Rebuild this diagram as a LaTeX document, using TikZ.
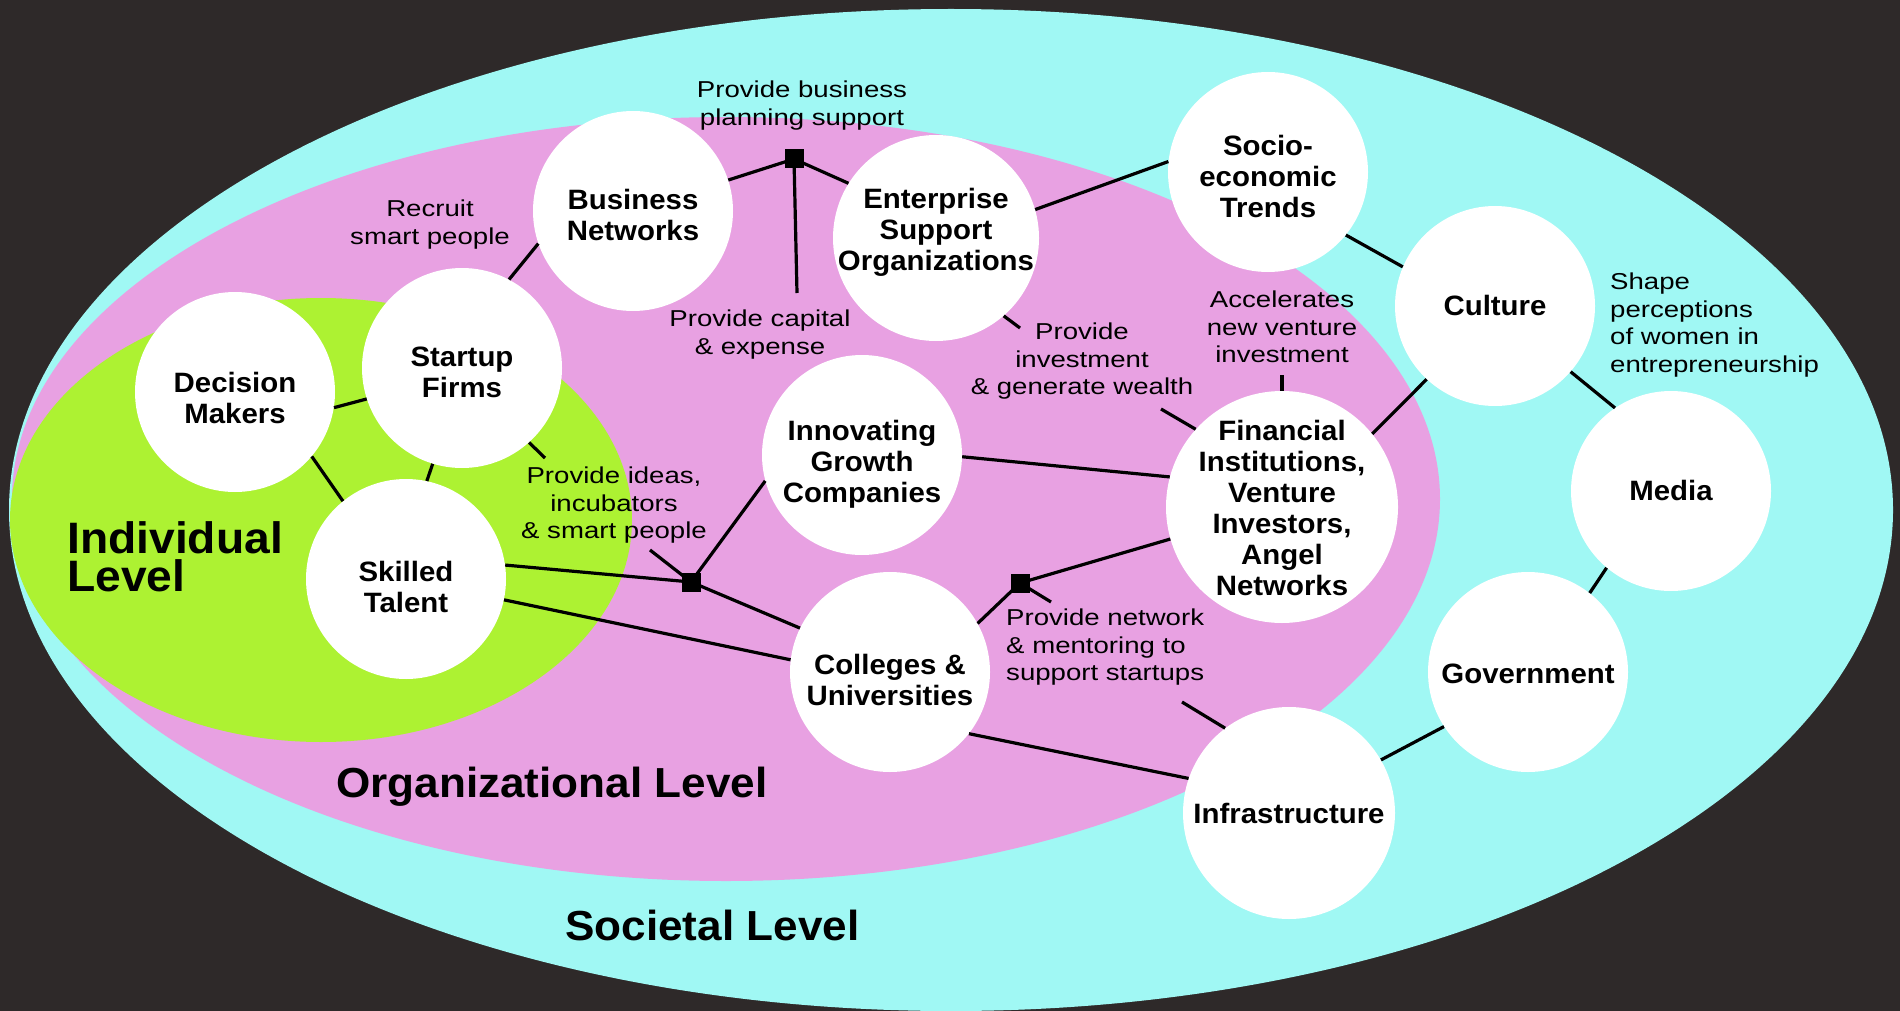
\documentclass[tikz,border=0pt]{standalone}
\usepackage{fontspec}
\setmainfont{Liberation Sans}[FakeStretch=1.05]
\newfontfamily\lblfont{Liberation Sans}[FakeStretch=1.2]
\definecolor{bgdark}{HTML}{2E2929}
\definecolor{socfill}{HTML}{A0F8F4}
\definecolor{orgfill}{HTML}{E8A1E2}
\definecolor{indfill}{HTML}{ADF232}
\begin{document}
\begin{tikzpicture}[x=1pt,y=-1pt,
  actor/.style={circle, fill=white, inner sep=0pt, minimum size=200pt},
  actortext/.style={align=center, inner sep=0pt, font=\bfseries\fontsize{28}{31}\selectfont},
  link/.style={line width=3.2pt, black},
  hub/.style={rectangle, fill=black, minimum size=19pt, inner sep=0pt},
  lbl/.style={align=center, inner sep=0pt, font=\lblfont\fontsize{23}{27.5}\selectfont},
  lvl/.style={inner sep=0pt, font=\bfseries\fontsize{42}{38}\selectfont}]

\fill[bgdark] (0,0) rectangle (1900,1011);
\useasboundingbox (0,0) rectangle (1900,1011);
\fill[socfill] (951,510) ellipse [x radius=942pt, y radius=501pt];
\fill[orgfill] (726,499) ellipse [x radius=714pt, y radius=382pt];
\fill[indfill] (321,520) ellipse [x radius=311pt, y radius=222pt];

% actors
\node[actor] (bn) at (633,211) {};
\node[actor, minimum size=206pt] (eso) at (936,238) {};
\node[actor] (soc) at (1268,172) {};
\node[actor] (cul) at (1495,306) {};
\node[actor] (med) at (1671,491) {};
\node[actor] (gov) at (1528,672) {};
\node[actor, minimum size=212pt] (inf) at (1289,813) {};
\node[actor, minimum size=232pt] (fin) at (1282,507) {};
\node[actor] (col) at (890,672) {};
\node[actor] (igc) at (862,455) {};
\node[actor] (st) at (406,579) {};
\node[actor] (dm) at (235,392) {};
\node[actor] (sf) at (462,368) {};

\node[actortext, yshift=-4pt] (bn-t) at (bn) {Business\\Networks};
\node[actortext, yshift=6pt] (eso-t) at (eso) {Enterprise\\Support\\Organizations};
\node[actortext, yshift=-4pt] (soc-t) at (soc) {Socio-\\economic\\Trends};
\node[actortext, yshift=1pt] (cul-t) at (cul) {Culture};
\node[actortext, yshift=1pt] (med-t) at (med) {Media};
\node[actortext, yshift=-2pt] (gov-t) at (gov) {Government};
\node[actortext] (inf-t) at (inf) {Infrastructure};
\node[actortext, yshift=-1pt] (fin-t) at (fin) {Financial\\Institutions,\\Venture\\Investors,\\Angel\\Networks};
\node[actortext, yshift=-7.5pt] (col-t) at (col) {Colleges \&\\Universities};
\node[actortext, yshift=-9.5pt] (igc-t) at (igc) {Innovating\\Growth\\Companies};
\node[actortext, yshift=-8pt] (st-t) at (st) {Skilled\\Talent};
\node[actortext, yshift=-6pt] (dm-t) at (dm) {Decision\\Makers};
\node[actortext, yshift=-4pt] (sf-t) at (sf) {Startup\\Firms};

% hubs and free ends
\coordinate (capend) at (797,293);
\coordinate (ideasend) at (545,458);
\coordinate (ideasstart) at (650,550);
\coordinate (invA) at (1020,328);
\coordinate (invB) at (1161,409);
\coordinate (accB) at (1282,375);
\coordinate (netA) at (1051,602);
\coordinate (netB) at (1182,702);
\node[hub] (h1) at (794,159) {};
\node[hub] (h2) at (691,582) {};
\node[hub] (h3) at (1020,583) {};

% connectors
\draw[link] (bn.18.8) -- (h1.center);
\draw[link] (h1.center) -- (eso.148);
\draw[link] (h1.center) -- (capend);
\draw[link] (sf.62) -- (bn.199.7);
\draw[link] (dm.-9.6) -- (sf.198.6);
\draw[link] (dm.-40.5) -- (st.129.7);
\draw[link] (sf.-107.4) -- (st.78);
\draw[link] (sf.-48.7) -- (ideasend);
\draw[link] (ideasstart) -- (h2.center);
\draw[link] (st.8) -- (h2.center);
\draw[link] (h2.center) -- (igc.-165.3);
\draw[link] (h2.center) -- (col.154.7);
\draw[link] (st.-12.7) -- (col.173.2);
\draw[link] (igc.-1.7) -- (fin.165.3);
\draw[link] (eso.16.9) -- (soc.174.9);
\draw[link] (eso.-49.2) -- (invA);
\draw[link] (invB) -- (fin.138.5);
\draw[link] (accB) -- (fin.90);
\draw[link] (soc.-39) -- (cul.157);
\draw[link] (cul.-133.8) -- (fin.39.7);
\draw[link] (cul.-41.4) -- (med.124);
\draw[link] (med.-130.2) -- (gov.52.7);
\draw[link] (gov.-147.1) -- (inf.30.7);
\draw[link] (col.-38.9) -- (inf.161.4);
\draw[link] (col.29.9) -- (h3.center);
\draw[link] (h3.center) -- (fin.-164.7);
\draw[link] (h3.center) -- (netA);
\draw[link] (netB) -- (inf.127.4);

\node[hub] (h1b) at (h1) {};
\node[hub] (h2b) at (h2) {};
\node[hub] (h3b) at (h3) {};

% connector labels
\node[lbl, anchor=north] (l-plan) at (802,81) {Provide business\\planning support};
\node[lbl, anchor=north] (l-rec) at (430,200) {Recruit\\smart people};
\node[lbl, anchor=north] (l-cap) at (760,310) {Provide capital\\\& expense};
\node[lbl, anchor=north] (l-ideas) at (614,467) {Provide ideas,\\incubators\\\& smart people};
\node[lbl, anchor=north] (l-inv) at (1082,323) {Provide\\investment\\\& generate wealth};
\node[lbl, anchor=north] (l-acc) at (1282,291) {Accelerates\\new venture\\investment};
\node[lbl, anchor=north west, align=left] (l-shape) at (1610,273) {Shape\\perceptions\\of women in\\entrepreneurship};
\node[lbl, anchor=north west, align=left] (l-net) at (1006,609) {Provide network\\\& mentoring to\\support startups};

% level labels
\node[lvl, anchor=north west, align=left, font=\bfseries\fontsize{44}{38.5}\selectfont] (lv-ind) at (67,521) {Individual\\Level};
\node[lvl, anchor=base west] (lv-org) at (336,797) {Organizational Level};
\node[lvl, anchor=base west] (lv-soc) at (565,940) {Societal Level};
\end{tikzpicture}
\end{document}
